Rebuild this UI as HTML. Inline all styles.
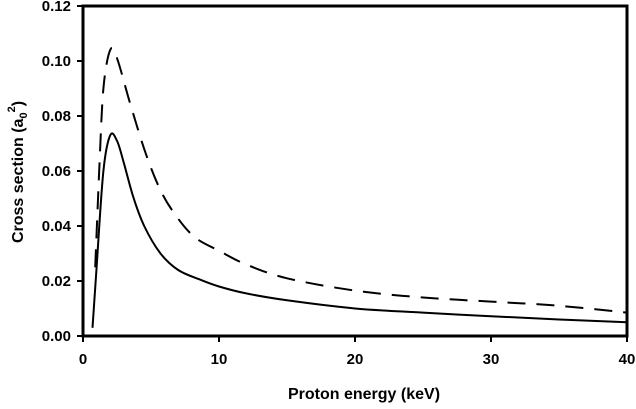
<!DOCTYPE html>
<html><head><meta charset="utf-8"><style>
html,body{margin:0;padding:0;background:#fff;}
svg{display:block;font-family:"Liberation Sans",Arial,sans-serif;font-weight:bold;}
</style></head><body>
<svg id="chart" width="636" height="409" viewBox="0 0 636 409" xmlns="http://www.w3.org/2000/svg">
<g id="axes"></g>
<g id="series"></g>
<text x="364" y="399" text-anchor="middle" font-size="16">Proton energy (keV)</text>
<text transform="translate(23,172) rotate(-90)" text-anchor="middle" font-size="16">Cross section (a<tspan font-size="11" dy="4">0</tspan><tspan font-size="11" dy="-12">2</tspan><tspan dy="8">)</tspan></text>
</svg>
<script>
const xTicks=[0,10,20,30,40];
const yTicks=[0,0.02,0.04,0.06,0.08,0.10,0.12];
const yTickLabels=["0.00","0.02","0.04","0.06","0.08","0.10","0.12"];
const solidX=[0.7,1.0,1.5,2.0,2.5,3.0,3.7,4.5,5.7,7,8.6,10,12,15,20,25,30,35,40];
const solidY=[0.003,0.025,0.060,0.073,0.071,0.063,0.0505,0.040,0.030,0.024,0.0205,0.018,0.0155,0.013,0.010,0.0085,0.0072,0.006,0.005];
const dashX=[0.9,1.2,1.5,2.0,2.5,3.5,4.6,5.7,6.8,8.2,10,12,15,20,25,30,35,40];
const dashY=[0.025,0.061,0.090,0.104,0.101,0.084,0.0665,0.053,0.044,0.036,0.031,0.026,0.021,0.0165,0.014,0.0125,0.011,0.0085];
const X0=83,X1=627,Y0=336,Y1=6;
const xs=v=>X0+(v-0)/(40-0)*(X1-X0);
const ys=v=>Y0-(v-0)/(0.12-0)*(Y0-Y1);
const NS="http://www.w3.org/2000/svg";
const axes=document.getElementById('axes');
function mk(tag,attrs,parent){const e=document.createElementNS(NS,tag);for(const k in attrs)e.setAttribute(k,attrs[k]);parent.appendChild(e);return e;}
const frame=mk('rect',{x:X0,y:Y1,width:X1-X0,height:Y0-Y1,fill:'none',stroke:'#000','stroke-width':3},axes);


xTicks.forEach(t=>{
  const l=mk('line',{x1:xs(t),x2:xs(t),y1:Y0,y2:Y0+6,stroke:'#000','stroke-width':2},axes);
  
  
  const tx=mk('text',{x:xs(t),y:Y0+28,'text-anchor':'middle','font-size':15},axes);
  tx.textContent=t;
  
  
});
yTicks.forEach((t,i)=>{
  const l=mk('line',{x1:X0-6,x2:X0,y1:ys(t),y2:ys(t),stroke:'#000','stroke-width':2},axes);
  
  
  const tx=mk('text',{x:X0-12,y:ys(t)+5,'text-anchor':'end','font-size':15},axes);
  tx.textContent=yTickLabels[i];
  
  
});
const series=document.getElementById('series');
function path(xa,ya){
  const p=xa.map((x,i)=>[xs(x),ys(ya[i])]);
  let d='M'+p[0][0].toFixed(1)+' '+p[0][1].toFixed(1);
  for(let i=0;i<p.length-1;i++){
    const a=p[Math.max(0,i-1)],b=p[i],c=p[i+1],e=p[Math.min(p.length-1,i+2)];
    const c1=[b[0]+(c[0]-a[0])/6,b[1]+(c[1]-a[1])/6];
    const c2=[c[0]-(e[0]-b[0])/6,c[1]-(e[1]-b[1])/6];
    d+=' C'+c1[0].toFixed(1)+' '+c1[1].toFixed(1)+' '+c2[0].toFixed(1)+' '+c2[1].toFixed(1)+' '+c[0].toFixed(1)+' '+c[1].toFixed(1);
  }
  return d;
}
const s=mk('path',{d:path(solidX,solidY),fill:'none',stroke:'#000','stroke-width':2,'stroke-linejoin':'round'},series);


const d=mk('path',{d:path(dashX,dashY),fill:'none',stroke:'#000','stroke-width':2,'stroke-dasharray':'18 11','stroke-linejoin':'round'},series);


</script>
</body></html>
